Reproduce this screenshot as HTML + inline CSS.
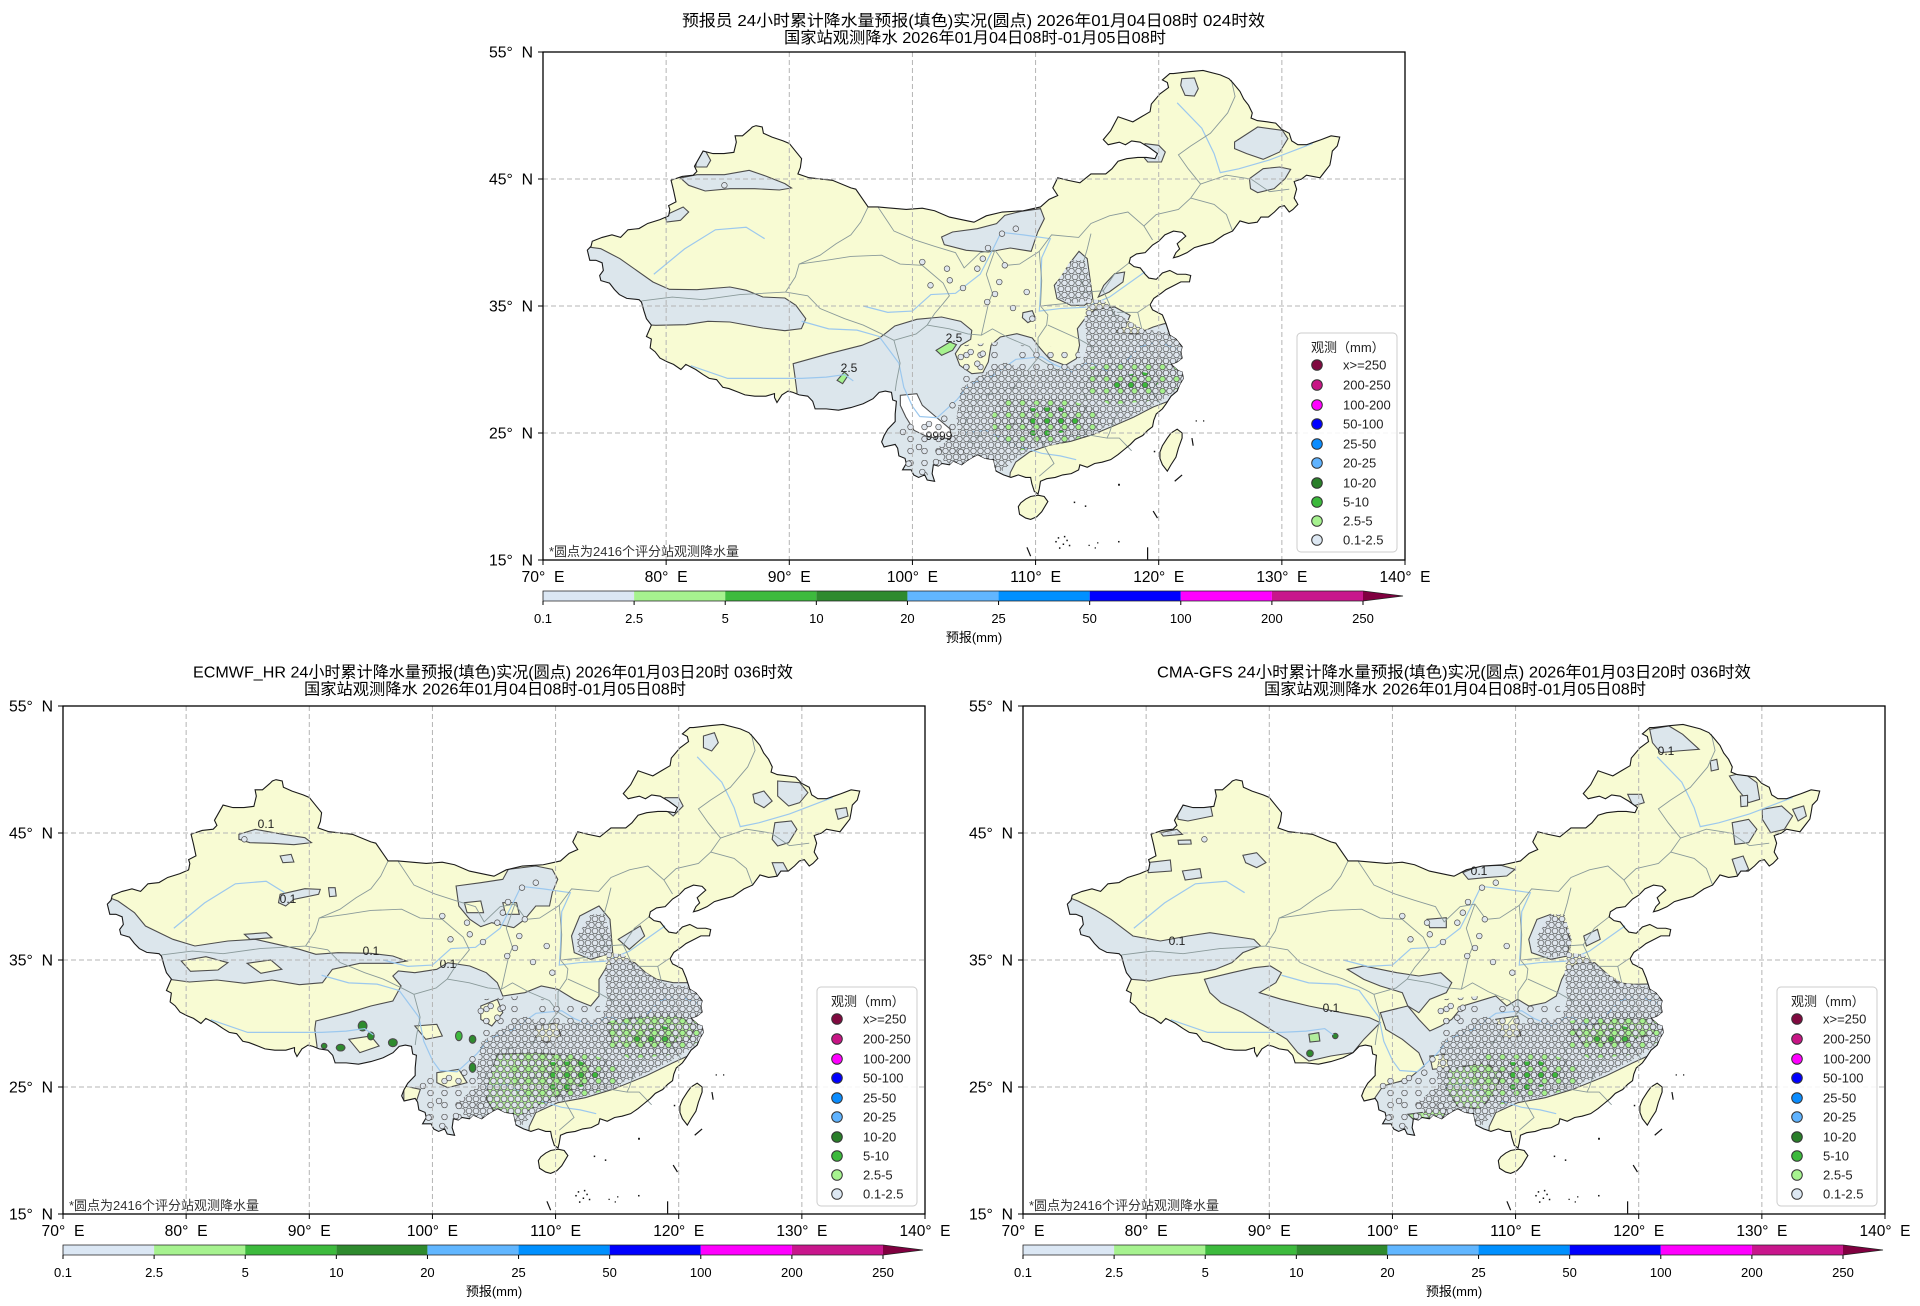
<!DOCTYPE html>
<html>
<head>
<meta charset="utf-8">
<style>
html,body{margin:0;padding:0;background:#fff;}
svg{display:block;}
.z path,.z ellipse{vector-effect:non-scaling-stroke;}
.ll path,.ll line,.ll circle{vector-effect:non-scaling-stroke;}
.t{font-family:"Liberation Sans","Noto Sans CJK SC",sans-serif;font-size:16px;fill:#000;}
.tk{font-family:"Liberation Sans","Noto Sans CJK SC",sans-serif;font-size:16px;fill:#000;}
.cbl{font-family:"Liberation Sans","Noto Sans CJK SC",sans-serif;font-size:13px;fill:#000;}
.lg{font-family:"Liberation Sans","Noto Sans CJK SC",sans-serif;font-size:13px;fill:#222;}
.fn{font-family:"Liberation Sans","Noto Sans CJK SC",sans-serif;font-size:13px;fill:#333;}
.cl{font-family:"Liberation Sans","Noto Sans CJK SC",sans-serif;font-size:12px;fill:#222;}
</style>
</head>
<body>
<svg width="1920" height="1306" viewBox="0 0 1920 1306" xmlns="http://www.w3.org/2000/svg">
<defs>
<path id="cn" vector-effect="non-scaling-stroke" d="M121.2,-53.3 L122.5,-53.45 L123.6,-53.55 L125,-53.2 L125.7,-52.9 L126,-52.6 L126.6,-51.9 L126.9,-51.3 L127.3,-50.8 L127.6,-50.2 L127.5,-49.8 L128,-49.6 L128.8,-49.5 L129.5,-49.4 L130,-48.9 L130.6,-48.6 L130.8,-48 L131.3,-47.7 L132,-47.7 L132.6,-47.9 L133.2,-48.1 L134,-48.4 L134.7,-48.3 L134.5,-47.6 L134.1,-47.2 L134,-46.6 L133.9,-46.1 L133.5,-45.6 L133.1,-45.1 L132,-45.3 L131.6,-45 L131,-44.8 L131.2,-44.2 L131,-43.5 L131.3,-43 L130.9,-42.6 L130.6,-42.4 L130.2,-42.9 L129.8,-42.8 L129.4,-42.4 L128.9,-42 L128.3,-42 L128,-41.6 L127.3,-41.5 L126.6,-41.7 L126,-40.9 L125.3,-40.6 L124.4,-40 L123.6,-39.8 L122.9,-39.6 L122.3,-39.2 L121.6,-38.9 L121.2,-38.8 L121.4,-39.2 L121.7,-39.5 L121.5,-39.9 L122.2,-40.5 L121.9,-40.8 L121.2,-40.9 L120.5,-40.6 L120,-40.1 L119.5,-39.8 L118.9,-39.2 L118.2,-39.1 L117.7,-38.8 L117.6,-38.4 L118,-38.1 L118.5,-38 L118.9,-37.5 L119.2,-37.2 L119.8,-37.1 L120.3,-37.6 L120.9,-37.8 L121.5,-37.5 L122.2,-37.5 L122.6,-37.4 L122.5,-36.9 L121.8,-36.9 L121,-36.5 L120.6,-36.3 L120.2,-36 L119.6,-35.6 L119.3,-35.1 L119.5,-34.7 L120.3,-34.3 L120.6,-33.6 L120.9,-32.7 L121.4,-32.4 L121.9,-31.8 L121.8,-31.4 L121.9,-30.9 L121.5,-30.6 L121,-30.4 L121.6,-29.9 L121.9,-29.8 L122,-29.3 L121.7,-28.8 L121.5,-28.3 L121,-27.9 L120.6,-27.3 L120.3,-26.9 L119.8,-26.5 L119.6,-26 L119.5,-25.5 L119.1,-25.2 L118.7,-24.8 L118.1,-24.5 L117.7,-24.1 L117.2,-23.7 L116.7,-23.3 L116.1,-22.9 L115.4,-22.7 L114.8,-22.6 L114.2,-22.3 L113.6,-22.5 L113.5,-22.1 L112.9,-21.8 L112.2,-21.7 L111.6,-21.5 L110.9,-21.4 L110.4,-21.2 L110.3,-20.6 L110.2,-20.2 L109.9,-20.4 L109.7,-21 L109.6,-21.5 L109.2,-21.5 L108.6,-21.7 L108,-21.5 L107.4,-21.7 L106.8,-22 L106.7,-22.4 L106.6,-22.9 L105.9,-23 L105.3,-23.3 L104.9,-23.1 L104.4,-22.8 L104,-22.5 L103.3,-22.8 L103,-22.5 L102.4,-22.6 L102.1,-22.4 L101.7,-22.5 L101.6,-21.8 L101.8,-21.2 L101.2,-21.3 L101,-21.7 L100.5,-21.5 L100.1,-21.7 L99.9,-22.1 L99.2,-22.1 L99.5,-22.6 L99.4,-23 L98.9,-23.2 L98.8,-23.8 L98.6,-24.1 L97.7,-23.9 L97.5,-24.3 L97.7,-24.8 L98,-25.3 L98.6,-25.9 L98.6,-26.5 L98.7,-27.5 L98.4,-27.6 L98.3,-28.2 L97.8,-28.3 L97.3,-28.2 L96.8,-27.7 L96,-27.3 L95,-27 L94,-26.8 L93,-26.9 L92.1,-26.9 L91.9,-27.5 L91.5,-27.9 L90.8,-28 L90.3,-28.2 L89.9,-28.3 L89.4,-28 L89,-27.4 L88.8,-27.8 L88.8,-28.1 L88.1,-27.9 L87.2,-27.9 L86.4,-28 L85.9,-28.2 L85.1,-28.5 L84.6,-28.6 L84.1,-29.2 L83.5,-29.3 L83,-29.6 L82.4,-30 L81.6,-30.4 L81.2,-30 L80.6,-30.4 L80.1,-30.6 L79.5,-30.9 L79.1,-31.4 L78.7,-31.7 L78.8,-32.4 L78.4,-32.6 L78.8,-33.5 L78.4,-34 L78.2,-34.6 L78,-35.3 L77.8,-35.5 L76.8,-35.6 L76.2,-35.9 L75.8,-36.3 L75.4,-36.8 L74.7,-37 L74.6,-37.4 L74.9,-37.8 L74.8,-38.4 L74.3,-38.6 L73.8,-38.6 L73.7,-39 L73.6,-39.4 L73.9,-39.7 L74,-40.1 L74.8,-40.4 L75.6,-40.6 L76.3,-40.4 L76.9,-41 L77.8,-41.1 L78.5,-41.5 L79.5,-41.8 L80.2,-42.1 L80.3,-42.6 L80.2,-42.9 L80.8,-43.2 L80.6,-44.1 L80.4,-44.9 L81.3,-45.2 L82.2,-45.3 L82.5,-45.6 L82.3,-46 L83,-47.2 L83.8,-47 L84.7,-47 L85.5,-47.1 L85.7,-47.9 L85.6,-48.4 L86.2,-48.4 L86.8,-48.9 L87,-49.1 L87.3,-49.2 L87.8,-49.1 L87.9,-48.6 L88.6,-48.3 L89.5,-48 L90,-47.8 L90.5,-47.2 L91,-46.6 L90.9,-45.9 L90.7,-45.4 L91.6,-45.1 L93.5,-44.9 L95,-44.3 L95.4,-44.2 L96.4,-42.8 L97.2,-42.8 L99.5,-42.6 L100.8,-42.7 L101.8,-42.5 L103,-42 L104.5,-41.7 L105,-41.6 L106,-42.1 L107.3,-42.4 L109,-42.5 L110.4,-42.8 L111.1,-43.4 L111.8,-43.7 L111.4,-44.3 L111.8,-45.1 L112.6,-44.9 L113.6,-44.7 L114.5,-45.4 L115.7,-45.4 L116.2,-45.8 L116.7,-46.4 L117.4,-46.6 L118.3,-46.7 L119,-46.7 L119.7,-46.6 L119.9,-47 L119.2,-47.5 L118.5,-47.9 L117.8,-48 L117.3,-47.7 L116.8,-47.9 L115.9,-47.7 L115.5,-48.1 L116.1,-48.8 L116.7,-49.9 L117.9,-49.5 L118.6,-49.9 L119.3,-50.3 L119.4,-50.9 L120.1,-51.7 L120.8,-52.2 L120.7,-52.6 L120.3,-52.8 L120.9,-53.3 Z M108.6,-19.2 L108.7,-18.6 L109.2,-18.3 L109.6,-18.2 L110.1,-18.4 L110.5,-18.8 L111,-19.6 L110.7,-20 L110.2,-20.1 L109.6,-20 L109.2,-19.8 L108.8,-19.5 Z M120.1,-23 L120.3,-22.5 L120.7,-22 L121,-22.5 L121.4,-23.1 L121.6,-23.8 L121.9,-24.6 L121.9,-25 L121.5,-25.3 L121,-25 L120.7,-24.6 L120.3,-24 L120.1,-23.5 Z"/>
<clipPath id="cp"><use href="#cn" transform="scale(12.314,12.7) translate(-70,55)"/></clipPath>

<pattern id="pd" width="7" height="12" patternUnits="userSpaceOnUse" patternTransform="scale(1.81905,3)">
<g fill="#dfe6ee" stroke="#505050" stroke-width="0.7"><circle cx="3.5" cy="3" r="2.8"/><circle cx="0" cy="9" r="2.8"/><circle cx="7" cy="9" r="2.8"/></g>
</pattern>
<pattern id="ps" width="14" height="12" patternUnits="userSpaceOnUse" patternTransform="scale(1.81905,3)">
<g fill="#dfe6ee" stroke="#505050" stroke-width="0.7"><circle cx="3.5" cy="3" r="2.8"/></g>
</pattern>
<pattern id="pg" width="14" height="12" patternUnits="userSpaceOnUse" patternTransform="scale(1.81905,3)">
<g stroke="#505050" stroke-width="0.7"><circle cx="3.5" cy="3" r="2.8" fill="#a6f28f"/><circle cx="10.5" cy="3" r="2.8" fill="#dfe6ee"/><circle cx="0" cy="9" r="2.8" fill="#dfe6ee"/><circle cx="14" cy="9" r="2.8" fill="#dfe6ee"/><circle cx="7" cy="9" r="2.8" fill="#dfe6ee"/></g>
</pattern>
<pattern id="pg2" width="14" height="12" patternUnits="userSpaceOnUse" patternTransform="scale(1.81905,3)">
<g stroke="#505050" stroke-width="0.7"><circle cx="3.5" cy="3" r="2.8" fill="#a6f28f"/><circle cx="10.5" cy="3" r="2.8" fill="#dfe6ee"/><circle cx="0" cy="9" r="2.8" fill="#3cb93c"/><circle cx="14" cy="9" r="2.8" fill="#3cb93c"/><circle cx="7" cy="9" r="2.8" fill="#dfe6ee"/></g>
</pattern>

<g id="land"><use href="#cn" fill="#f8fbd3" transform="scale(12.314,12.7) translate(-70,55)"/></g>

<g id="lines" class="ll">
<g transform="scale(12.314,12.7) translate(-70,55)" fill="none">
<g stroke="#9cc8ee" stroke-width="1.2">
<path d="M91,-33.8 L93.2,-33.2 L95.5,-33.1 L97.3,-32.6 L98.9,-30.5 L99.3,-28.6 L100,-27.1 L100.6,-26.3 L102,-26.2 L103.6,-27.6 L104.6,-28.8 L106.5,-29.5 L108.4,-30.8 L110.5,-31 L111.5,-30.4 L113,-29.8 L114.3,-30.6 L116,-29.8 L117.5,-30.8 L118.5,-31.8 L120,-32.2 L121.5,-31.6"/>
<path d="M96,-35 L98,-34.5 L100,-34.6 L101.5,-35.9 L103.5,-36 L105.5,-37.5 L106.5,-39.4 L107.2,-40.8 L109,-40.6 L111.2,-40.3 L110.5,-38.8 L110.4,-36 L110.3,-34.6 L112,-34.8 L114,-34.9 L116,-35.7 L118.9,-37.7"/>
<path d="M121.5,-51 L123.5,-49 L124.5,-47 L125,-45.5 L126.5,-45.8 L129,-46.5 L132.5,-47.8"/>
<path d="M82,-30.3 L85,-29.3 L88,-29.3 L91,-29.3 L93,-29.4 L94.5,-29.6 L95.2,-29.1"/>
<path d="M104,-25 L106,-25.2 L108.5,-24 L110.5,-23.4 L112,-23.2 L113.3,-22.9"/>
<path d="M79,-37.5 L81.5,-39.5 L84,-41 L86.5,-41.2 L88,-40.3"/>
</g>
<g stroke="#8a9a9a" stroke-width="0.9">
<path d="M78,-35.4 L80.5,-35.7 L83,-35.5 L86,-35.9 L89.7,-36.1 L90.5,-37.3 L90.8,-38.3 L92.5,-39 L93.8,-39.9 L95,-40.6 L95.8,-41.6 L96.4,-42.8"/>
<path d="M89.7,-36.1 L91.5,-35.8 L92.5,-34.8 L94.5,-34 L96,-33.5 L97.5,-32.8 L98.5,-32.3 L99,-30.5 L98.7,-29 L98.6,-28.3"/>
<path d="M90.8,-38.3 L93,-38.6 L95,-38.9 L97.5,-39 L99,-38.3 L100.8,-38.2 L102.5,-36.8 L103,-35.8 L102.5,-35.2 L101.8,-34.4 L101.2,-33.5 L100.3,-32.8 L98.5,-32.3"/>
<path d="M97.2,-42.8 L98.5,-40.9 L100.2,-40.2 L101.8,-39.7 L103.5,-39.2 L104.2,-38 L105.5,-39.2 L106.7,-39.4 L107.6,-38.2 L108.7,-38.3 L110.3,-39.3 L111.3,-40.6 L113.5,-40.4 L114.5,-41.5 L116,-42.1 L117.5,-42.4 L118.8,-41.3 L119.8,-42.2 L121.6,-42.6 L122.6,-43.5 L123.4,-44.6 L122.4,-45.8 L121.6,-46.9 L122.6,-47.6 L124.2,-48.6 L125.6,-50.2 L126.2,-51.5 L125.9,-52.8"/>
<path d="M101.2,-33.5 L103,-33.2 L104.5,-32.8 L105.6,-32.7 L106.5,-33.2 L107.8,-32.5 L109.5,-31.8 L110.2,-30.9 L109,-29.5 L108.2,-28.5 L106.8,-28.2 L105.4,-27.8 L104.5,-26.6 L104.2,-25.2 L104.6,-24.3 L105.5,-24.8 L106.8,-25.3 L108.5,-25.8 L109.6,-26.1 L111,-25.2 L112,-24.8 L114,-24.9 L115.8,-24.6 L116.8,-24.6 L117.8,-23.6"/>
<path d="M110.3,-39.3 L110.5,-37 L110.4,-35 L111,-34.3 L110.9,-33.5 L110.2,-32.5 L110.2,-30.9"/>
<path d="M106.7,-39.4 L106,-37.5 L106.5,-36 L106.2,-35.3 L105.6,-32.7"/>
<path d="M111,-33.5 L113.5,-32.4 L114.8,-31.7 L115.9,-31.5 L116.5,-29.8 L114.7,-29.4 L113.5,-29.2 L112,-29.8 L110.2,-30.9"/>
<path d="M113.5,-29.2 L114.2,-27.5 L113.8,-26 L114,-24.9"/>
<path d="M116.5,-29.8 L118.2,-29.4 L118,-28 L116.5,-26.5 L116,-25 L115.8,-24.6"/>
<path d="M115.9,-31.5 L116.8,-33 L116.3,-34.5 L118.3,-34.5 L119.2,-35.1"/>
<path d="M110.4,-35 L112.5,-35.2 L114,-36.1 L115.5,-36.2 L116.3,-34.5"/>
<path d="M114,-36.1 L113.6,-37.5 L114.2,-39.5 L114.5,-40.7"/>
<path d="M115.5,-36.2 L116.4,-37.5 L117.6,-38.4"/>
<path d="M109.6,-26.1 L110.8,-23.8 L111.5,-22.6 L110.3,-21.6"/>
<path d="M104.6,-24.3 L105.4,-24 L105.7,-23.4"/>
<path d="M123.4,-44.6 L125.5,-45.3 L127.5,-45 L129,-44 L130.6,-44.2"/>
<path d="M122.6,-43.5 L124.5,-43 L125.5,-42.2 L126,-40.9"/>
<path d="M118.8,-41.3 L119.5,-40.2"/>
<path d="M118.2,-29.4 L119.5,-28.2 L120.2,-27.2"/>
<path d="M118.3,-34.5 L118.8,-32.5 L119.6,-31.2 L120.9,-30.7"/>
</g>
<use href="#cn" fill="none" stroke="#1a1a1a" stroke-width="1.1"/>
<g stroke="#111" stroke-width="1.2">
<path d="M109.3,-16 L109.6,-15.3"/>
<path d="M119.1,-16 L119.1,-15.05"/>
<path d="M119.55,-18.85 L119.9,-18.3"/>
<path d="M121.3,-21.2 L121.9,-21.7"/>
<path d="M122.7,-24.6 L122.8,-24"/>
</g>
<g fill="#111" stroke="none">
<rect x="111.6" y="-16.5" width="0.12" height="0.12"/><rect x="111.8" y="-16.8" width="0.12" height="0.12"/><rect x="112.2" y="-16.3" width="0.12" height="0.12"/><rect x="112.5" y="-16.6" width="0.12" height="0.12"/><rect x="112.3" y="-16.9" width="0.12" height="0.12"/><rect x="111.9" y="-16.0" width="0.12" height="0.12"/><rect x="112.7" y="-16.2" width="0.12" height="0.12"/><rect x="114.3" y="-16.2" width="0.1" height="0.1"/><rect x="114.8" y="-16.0" width="0.1" height="0.1"/><rect x="115.0" y="-16.4" width="0.1" height="0.1"/><rect x="116.7" y="-16.5" width="0.12" height="0.12"/><rect x="116.7" y="-21.0" width="0.15" height="0.15"/><rect x="113.1" y="-19.6" width="0.12" height="0.12"/><rect x="114.0" y="-19.3" width="0.12" height="0.12"/><rect x="119.6" y="-23.6" width="0.12" height="0.12"/><rect x="123.6" y="-26.0" width="0.1" height="0.1"/><rect x="123.0" y="-26.0" width="0.1" height="0.1"/>
</g>
</g>
</g>

<g id="obs" clip-path="url(#cp)">
<g class="z" transform="scale(0.54974,0.33333)" stroke="none">
<path fill="url(#ps)" d="M650,1120 L700,1100 L755,1100 L760,1240 L700,1270 L660,1240 Z"/>
<path fill="url(#ps)" d="M760,880 L830,870 L850,960 L800,990 L760,1010 Z"/>
<path fill="url(#ps)" d="M860,880 L975,885 L980,945 L860,965 Z"/>
<path fill="url(#pd)" d="M990,740 L1020,745 L1050,790 L1090,830 L1130,840 L1160,850 L1175,900 L1170,960 L1150,1020 L1100,1070 L1050,1110 L1000,1140 L960,1160 L900,1180 L860,1220 L835,1258 L800,1245 L760,1240 L730,1232 L720,1185 L755,1140 L752,1100 L760,1010 L790,975 L840,930 L880,955 L940,950 L980,935 L990,880 L985,800 Z"/>
<path fill="url(#pd)" d="M960,625 L985,625 L998,700 L995,745 L960,755 L935,735 L935,690 Z"/>
<path fill="url(#pg)" d="M830,1040 L940,1035 L1015,1075 L1015,1140 L940,1175 L870,1195 L825,1165 L815,1100 Z"/>
<path fill="url(#pg)" d="M995,945 L1090,915 L1168,935 L1168,1000 L1100,1048 L1030,1058 L985,1012 Z"/>
<path fill="url(#pg2)" d="M870,1070 L940,1065 L980,1095 L960,1135 L900,1160 L870,1130 Z"/>
<path fill="url(#pg2)" d="M1030,980 L1090,960 L1130,975 L1110,1010 L1050,1025 Z"/>
</g>
<g fill="#dfe6ee" stroke="#505050" stroke-width="0.7">
<circle cx="379.3" cy="210" r="2.8"/><circle cx="404" cy="216.7" r="2.8"/><circle cx="406.8" cy="228.3" r="2.8"/><circle cx="387.5" cy="233.3" r="2.8"/><circle cx="434.3" cy="216.7" r="2.8"/><circle cx="439.8" cy="206.7" r="2.8"/><circle cx="461.8" cy="213.3" r="2.8"/><circle cx="456.3" cy="230" r="2.8"/><circle cx="483.7" cy="240" r="2.8"/><circle cx="444.2" cy="250" r="2.8"/><circle cx="472.8" cy="176.7" r="2.8"/><circle cx="459" cy="181.7" r="2.8"/><circle cx="427.7" cy="300" r="2.8"/><circle cx="439.8" cy="301.7" r="2.8"/><circle cx="434.3" cy="311.7" r="2.8"/><circle cx="423.3" cy="315" r="2.8"/><circle cx="360" cy="380" r="2.8"/><circle cx="365.6" cy="411.7" r="2.8"/><circle cx="379.3" cy="420" r="2.8"/><circle cx="393" cy="410" r="2.8"/><circle cx="714.6" cy="173.3" r="2.8"/><circle cx="181.4" cy="133.3" r="2.8"/><circle cx="489.3" cy="266.7" r="2.8"/><circle cx="417.8" cy="305" r="2.8"/><circle cx="409.5" cy="353.3" r="2.8"/><circle cx="401.3" cy="366.7" r="2.8"/><circle cx="395.8" cy="400" r="2.8"/><circle cx="417.8" cy="400" r="2.8"/><circle cx="445" cy="196" r="2.8"/><circle cx="420" cy="236" r="2.8"/><circle cx="452" cy="242" r="2.8"/><circle cx="470" cy="256" r="2.8"/><circle cx="376" cy="395" r="2.8"/><circle cx="386" cy="372" r="2.8"/>
</g>
</g>

<g id="axdeco">
<g stroke="#b4b4b4" stroke-width="1" stroke-dasharray="5,3" fill="none">
<line x1="123.14" y1="0" x2="123.14" y2="508"/><line x1="246.29" y1="0" x2="246.29" y2="508"/><line x1="369.43" y1="0" x2="369.43" y2="508"/><line x1="492.57" y1="0" x2="492.57" y2="508"/><line x1="615.71" y1="0" x2="615.71" y2="508"/><line x1="738.86" y1="0" x2="738.86" y2="508"/>
<line x1="0" y1="127" x2="862" y2="127"/><line x1="0" y1="254" x2="862" y2="254"/><line x1="0" y1="381" x2="862" y2="381"/>
</g>
<rect x="0" y="0" width="862" height="508" fill="none" stroke="#000" stroke-width="1.3"/>
<g stroke="#000" stroke-width="1">
<line x1="-5" y1="0" x2="0" y2="0"/><line x1="-5" y1="127" x2="0" y2="127"/><line x1="-5" y1="254" x2="0" y2="254"/><line x1="-5" y1="381" x2="0" y2="381"/><line x1="-5" y1="508" x2="0" y2="508"/>
<line x1="0" y1="508" x2="0" y2="513"/><line x1="123.14" y1="508" x2="123.14" y2="513"/><line x1="246.29" y1="508" x2="246.29" y2="513"/><line x1="369.43" y1="508" x2="369.43" y2="513"/><line x1="492.57" y1="508" x2="492.57" y2="513"/><line x1="615.71" y1="508" x2="615.71" y2="513"/><line x1="738.86" y1="508" x2="738.86" y2="513"/><line x1="862" y1="508" x2="862" y2="513"/>
</g>
<g class="tk" text-anchor="end">
<text x="-10" y="5.5" textLength="44" lengthAdjust="spacingAndGlyphs">55°&#160;&#160;N</text>
<text x="-10" y="132.5" textLength="44" lengthAdjust="spacingAndGlyphs">45°&#160;&#160;N</text>
<text x="-10" y="259.5" textLength="44" lengthAdjust="spacingAndGlyphs">35°&#160;&#160;N</text>
<text x="-10" y="386.5" textLength="44" lengthAdjust="spacingAndGlyphs">25°&#160;&#160;N</text>
<text x="-10" y="513.5" textLength="44" lengthAdjust="spacingAndGlyphs">15°&#160;&#160;N</text>
</g>
<g class="tk" text-anchor="middle">
<text x="0" y="530" textLength="43" lengthAdjust="spacingAndGlyphs">70°&#160;&#160;E</text>
<text x="123.14" y="530" textLength="43" lengthAdjust="spacingAndGlyphs">80°&#160;&#160;E</text>
<text x="246.29" y="530" textLength="43" lengthAdjust="spacingAndGlyphs">90°&#160;&#160;E</text>
<text x="369.43" y="530" textLength="51" lengthAdjust="spacingAndGlyphs">100°&#160;&#160;E</text>
<text x="492.57" y="530" textLength="51" lengthAdjust="spacingAndGlyphs">110°&#160;&#160;E</text>
<text x="615.71" y="530" textLength="51" lengthAdjust="spacingAndGlyphs">120°&#160;&#160;E</text>
<text x="738.86" y="530" textLength="51" lengthAdjust="spacingAndGlyphs">130°&#160;&#160;E</text>
<text x="862" y="530" textLength="51" lengthAdjust="spacingAndGlyphs">140°&#160;&#160;E</text>
</g>
<text class="fn" x="6" y="504">*圆点为2416个评分站观测降水量</text>
<rect x="754" y="281" width="100" height="219" rx="4" ry="4" fill="#ffffff" fill-opacity="0.85" stroke="#cccccc" stroke-width="1"/>
<text class="lg" x="768" y="300">观测（mm）</text>
<g stroke="#333" stroke-width="1">
<circle cx="774" cy="313" r="5.3" fill="#800a40"/>
<circle cx="774" cy="333" r="5.3" fill="#c71585"/>
<circle cx="774" cy="353" r="5.3" fill="#ff00ff"/>
<circle cx="774" cy="372" r="5.3" fill="#0000ff"/>
<circle cx="774" cy="392" r="5.3" fill="#0a8cff"/>
<circle cx="774" cy="411" r="5.3" fill="#5fb3ff"/>
<circle cx="774" cy="431" r="5.3" fill="#2a7f2a"/>
<circle cx="774" cy="450" r="5.3" fill="#3cb93c"/>
<circle cx="774" cy="469" r="5.3" fill="#a6f28f"/>
<circle cx="774" cy="488" r="5.3" fill="#dde8f3"/>
</g>
<g class="lg">
<text x="800" y="317.5">x&gt;=250</text>
<text x="800" y="337.5">200-250</text>
<text x="800" y="357.5">100-200</text>
<text x="800" y="376.5">50-100</text>
<text x="800" y="396.5">25-50</text>
<text x="800" y="415.5">20-25</text>
<text x="800" y="435.5">10-20</text>
<text x="800" y="454.5">5-10</text>
<text x="800" y="473.5">2.5-5</text>
<text x="800" y="492.5">0.1-2.5</text>
</g>
</g>

<g id="cb">
<rect x="0" y="539" width="91.11" height="10" fill="#dbe7f4"/>
<rect x="91.11" y="539" width="91.11" height="10" fill="#a6f28f"/>
<rect x="182.22" y="539" width="91.11" height="10" fill="#3dba3d"/>
<rect x="273.33" y="539" width="91.11" height="10" fill="#2e8a2e"/>
<rect x="364.44" y="539" width="91.11" height="10" fill="#61b6ff"/>
<rect x="455.56" y="539" width="91.11" height="10" fill="#0090ff"/>
<rect x="546.67" y="539" width="91.11" height="10" fill="#0000fe"/>
<rect x="637.78" y="539" width="91.11" height="10" fill="#fe00fe"/>
<rect x="728.89" y="539" width="91.11" height="10" fill="#c8168c"/>
<polygon points="820,539 860,544 820,549" fill="#800040"/>
<path d="M0,539 H820 L860,544 L820,549 H0 Z" fill="none" stroke="#222" stroke-width="0.8"/>
<g stroke="#000" stroke-width="1">
<line x1="0" y1="549" x2="0" y2="553"/><line x1="91.11" y1="549" x2="91.11" y2="553"/><line x1="182.22" y1="549" x2="182.22" y2="553"/><line x1="273.33" y1="549" x2="273.33" y2="553"/><line x1="364.44" y1="549" x2="364.44" y2="553"/><line x1="455.56" y1="549" x2="455.56" y2="553"/><line x1="546.67" y1="549" x2="546.67" y2="553"/><line x1="637.78" y1="549" x2="637.78" y2="553"/><line x1="728.89" y1="549" x2="728.89" y2="553"/><line x1="820" y1="549" x2="820" y2="553"/>
</g>
<g class="cbl" text-anchor="middle">
<text x="0" y="571">0.1</text><text x="91.11" y="571">2.5</text><text x="182.22" y="571">5</text><text x="273.33" y="571">10</text><text x="364.44" y="571">20</text><text x="455.56" y="571">25</text><text x="546.67" y="571">50</text><text x="637.78" y="571">100</text><text x="728.89" y="571">200</text><text x="820" y="571">250</text>
<text x="431" y="590">预报(mm)</text>
</g>
</g>
</defs>

<rect x="0" y="0" width="1920" height="1306" fill="#ffffff"/>

<!-- ============ TOP PANEL ============ -->
<text class="t" x="973.5" y="26" text-anchor="middle" textLength="583" lengthAdjust="spacingAndGlyphs">预报员 24小时累计降水量预报(填色)实况(圆点) 2026年01月04日08时 024时效</text>
<text class="t" x="975" y="43" text-anchor="middle" textLength="382" lengthAdjust="spacingAndGlyphs">国家站观测降水 2026年01月04日08时-01月05日08时</text>
<g transform="translate(543,52)">
<use href="#land"/>
<g clip-path="url(#cp)">
<g class="z" transform="scale(0.54974,0.33333)" fill="#dce6ec" stroke="#4d4d4d" stroke-width="1.1">
<path d="M60,580 L105,590 L140,620 L200,690 L230,712 L280,713 L340,705 L370,715 L400,735 L440,738 L460,760 L478,800 L470,830 L440,836 L400,828 L340,810 L300,808 L260,818 L205,820 L185,818 L150,830 L60,830 Z"/>
<path d="M455,935 L520,905 L580,880 L612,858 L640,822 L680,802 L725,795 L760,808 L780,835 L778,862 L760,880 L750,905 L758,940 L780,965 L800,962 L810,930 L815,880 L832,855 L862,845 L890,858 L905,890 L922,922 L950,940 L970,920 L976,880 L972,830 L988,795 L1005,772 L1040,765 L1068,790 L1060,820 L1040,840 L1080,846 L1110,825 L1130,815 L1250,815 L1250,1000 L1150,1040 L1110,1065 L1075,1095 L1040,1120 L1000,1148 L960,1168 L920,1180 L885,1200 L860,1230 L850,1262 L845,1340 L460,1340 L460,1100 L462,1020 L458,970 Z"/>
<path fill="#ffffff" d="M650,1030 L680,1025 L690,1060 L715,1095 L740,1130 L745,1160 L700,1155 L675,1135 L660,1095 L650,1060 Z"/>
<path d="M725,555 L745,540 L790,530 L825,515 L840,490 L870,478 L905,470 L912,500 L900,540 L888,598 L850,588 L810,600 L770,595 L730,578 Z"/>
<path d="M975,598 L990,620 L995,680 L1000,740 L985,760 L960,760 L935,740 L930,700 L945,670 L960,630 Z"/>
<path d="M1020,700 L1040,665 L1058,660 L1055,690 L1030,720 L1010,735 Z"/>
<path d="M873,782 L890,776 L896,800 L882,812 L872,797 Z"/>
<path d="M250,378 L280,368 L330,368 L375,355 L405,372 L440,395 L452,408 L430,414 L385,410 L340,410 L295,417 L265,400 Z"/>
<path d="M280,300 L295,295 L305,325 L298,345 L278,345 Z"/>
<path d="M222,490 L255,465 L265,480 L250,505 L225,510 Z"/>
<path d="M1162,80 L1185,78 L1192,110 L1185,132 L1168,130 L1160,100 Z"/>
<path d="M1095,275 L1120,280 L1132,300 L1125,330 L1100,330 L1085,300 Z"/>
<path d="M1258,270 L1300,225 L1345,235 L1355,260 L1340,300 L1310,322 L1280,305 L1258,290 Z"/>
<path d="M1285,380 L1310,350 L1340,345 L1360,352 L1350,380 L1330,410 L1300,422 L1287,410 Z"/>
<path fill="#a6f28f" d="M715,895 L740,870 L752,878 L745,895 L725,910 Z"/>
<path fill="#a6f28f" d="M535,985 L548,960 L555,970 L545,995 Z"/>
</g>
</g>
<use href="#lines"/>
<use href="#obs"/>
<g class="cl" text-anchor="middle"><text x="411" y="290">2.5</text><text x="306" y="320">2.5</text><text x="396" y="388">9999</text></g>
<use href="#axdeco"/>
<use href="#cb"/>
</g>

<!-- ============ BOTTOM LEFT PANEL ============ -->
<text class="t" x="493" y="677.5" text-anchor="middle" textLength="600" lengthAdjust="spacingAndGlyphs">ECMWF_HR 24小时累计降水量预报(填色)实况(圆点) 2026年01月03日20时 036时效</text>
<text class="t" x="495" y="694.5" text-anchor="middle" textLength="382" lengthAdjust="spacingAndGlyphs">国家站观测降水 2026年01月04日08时-01月05日08时</text>
<g transform="translate(63,706)">
<use href="#land"/>
<g clip-path="url(#cp)">
<g class="z" transform="scale(0.54974,0.33333)" fill="#dce6ec" stroke="#4d4d4d" stroke-width="1.1">
<path d="M60,560 L100,585 L130,620 L150,660 L200,700 L240,720 L300,705 L350,700 L390,715 L430,730 L460,745 L500,740 L560,742 L600,750 L625,765 L600,772 L540,772 L490,790 L472,830 L430,836 L380,822 L330,832 L280,822 L230,828 L185,818 L150,830 L60,830 Z"/>
<path fill="#f8fbd3" d="M215,765 L260,752 L300,770 L282,792 L232,796 Z"/>
<path fill="#f8fbd3" d="M335,772 L378,762 L398,790 L360,802 Z"/>
<path d="M460,945 L520,920 L560,900 L600,885 L615,840 L600,810 L610,795 L640,800 L680,790 L700,770 L740,780 L770,800 L790,830 L800,870 L840,860 L870,840 L900,850 L930,880 L960,900 L975,870 L975,820 L990,780 L1010,760 L1040,770 L1060,800 L1080,820 L1110,830 L1250,830 L1250,1000 L1150,1040 L1110,1070 L1060,1110 L1000,1150 L950,1175 L900,1190 L860,1220 L848,1262 L845,1340 L460,1340 L460,1100 L462,1020 L458,970 Z"/>
<path fill="#f8fbd3" d="M760,900 L790,880 L800,920 L780,960 L760,940 Z"/>
<path fill="#f8fbd3" d="M860,960 L900,950 L905,990 L880,1010 L860,995 Z"/>
<path fill="#f8fbd3" d="M640,960 L680,955 L690,990 L660,1000 Z"/>
<path fill="#f8fbd3" d="M680,1100 L720,1090 L735,1130 L700,1145 L680,1130 Z"/>
<path fill="#f8fbd3" d="M620,1140 L650,1150 L640,1200 L620,1190 Z"/>
<path fill="#f8fbd3" d="M520,1000 L560,990 L575,1020 L540,1040 Z"/>
<path d="M320,385 L350,370 L400,385 L440,395 L452,410 L420,416 L380,412 L340,410 L320,400 Z"/>
<path d="M395,565 L440,548 L468,550 L465,565 L420,580 L405,600 L392,590 Z"/>
<path d="M483,545 L495,545 L497,570 L485,572 Z"/>
<path d="M395,450 L415,445 L420,468 L400,470 Z"/>
<path d="M330,685 L370,680 L380,695 L340,700 Z"/>
<path d="M715,540 L760,530 L800,520 L810,490 L860,480 L890,490 L900,520 L890,560 L885,600 L860,600 L840,640 L820,665 L780,650 L760,662 L740,640 L720,600 Z"/>
<path fill="#f8fbd3" d="M730,590 L760,585 L765,620 L735,620 Z"/>
<path fill="#f8fbd3" d="M800,590 L825,590 L830,625 L805,625 Z"/>
<path d="M940,630 L975,600 L995,640 L1000,740 L960,760 L930,740 L925,690 Z"/>
<path d="M1010,700 L1050,660 L1058,690 L1030,730 Z"/>
<path d="M1165,90 L1185,80 L1192,110 L1180,135 L1165,125 Z"/>
<path d="M1300,225 L1340,230 L1355,260 L1340,290 L1320,300 L1300,270 Z"/>
<path d="M1255,265 L1275,255 L1290,285 L1275,305 L1258,290 Z"/>
<path d="M1295,350 L1325,345 L1335,370 L1320,410 L1300,420 L1290,400 Z"/>
<path d="M1095,275 L1120,275 L1128,300 L1110,330 L1095,310 Z"/>
<path d="M1290,470 L1310,470 L1320,500 L1300,515 Z"/>
<path d="M1405,310 L1425,305 L1428,330 L1410,340 Z"/>
<path fill="#b2ee9c" d="M790,1045 L860,1040 L920,1050 L960,1080 L950,1130 L900,1170 L860,1200 L830,1230 L790,1230 L770,1180 L775,1120 Z"/>
<path fill="#b2ee9c" d="M990,950 L1060,930 L1120,930 L1150,960 L1140,1000 L1080,1020 L1000,1020 Z"/>
<ellipse cx="545" cy="960" rx="8" ry="15" fill="#2e8b2e"/>
<ellipse cx="560" cy="990" rx="6" ry="12" fill="#2e8b2e"/>
<ellipse cx="600" cy="1010" rx="8" ry="12" fill="#2e8b2e"/>
<ellipse cx="720" cy="990" rx="6" ry="14" fill="#3dba3d"/>
<ellipse cx="745" cy="1000" rx="6" ry="12" fill="#2e8b2e"/>
<ellipse cx="745" cy="1085" rx="6" ry="14" fill="#2e8b2e"/>
<ellipse cx="505" cy="1025" rx="8" ry="10" fill="#2e8b2e"/>
<ellipse cx="475" cy="1020" rx="5" ry="8" fill="#2e8b2e"/>
</g>
</g>
<use href="#lines"/>
<use href="#obs"/>
<g class="cl" text-anchor="middle"><text x="203" y="122">0.1</text><text x="225" y="197">0.1</text><text x="308" y="249">0.1</text><text x="385" y="262">0.1</text></g>
<use href="#axdeco"/>
<use href="#cb"/>
</g>

<!-- ============ BOTTOM RIGHT PANEL ============ -->
<text class="t" x="1454" y="677.5" text-anchor="middle" textLength="594" lengthAdjust="spacingAndGlyphs">CMA-GFS 24小时累计降水量预报(填色)实况(圆点) 2026年01月03日20时 036时效</text>
<text class="t" x="1455" y="694.5" text-anchor="middle" textLength="382" lengthAdjust="spacingAndGlyphs">国家站观测降水 2026年01月04日08时-01月05日08时</text>
<g transform="translate(1023,706)">
<use href="#land"/>
<g clip-path="url(#cp)">
<g class="z" transform="scale(0.54974,0.33333)" fill="#dce6ec" stroke="#4d4d4d" stroke-width="1.1">
<path d="M60,560 L100,585 L130,610 L160,640 L200,690 L250,705 L300,690 L340,680 L380,690 L420,700 L432,720 L400,740 L380,770 L350,790 L320,800 L270,810 L230,825 L185,818 L150,830 L60,830 Z"/>
<path d="M330,820 L380,800 L420,785 L450,780 L470,800 L460,830 L430,860 L470,880 L520,900 L580,920 L630,935 L650,950 L620,1000 L600,1040 L560,1050 L520,1065 L500,1040 L480,1000 L440,960 L400,920 L360,890 L340,860 Z"/>
<path d="M590,790 L620,780 L680,800 L720,810 L760,800 L780,830 L770,860 L740,880 L720,920 L700,900 L690,860 L650,840 L620,820 Z"/>
<path d="M650,920 L700,900 L720,940 L740,975 L760,960 L780,940 L800,900 L840,880 L860,870 L880,900 L900,880 L920,900 L950,890 L970,870 L980,820 L990,790 L1010,770 L1040,770 L1060,800 L1080,830 L1110,835 L1250,830 L1250,1000 L1150,1040 L1110,1070 L1060,1110 L1000,1150 L950,1175 L900,1190 L860,1220 L848,1262 L845,1340 L640,1340 L630,1200 L655,1140 L700,1120 L730,1080 L720,1040 L690,1000 L660,970 Z"/>
<path fill="#f8fbd3" d="M860,940 L900,930 L905,990 L875,1000 Z"/>
<path fill="#f8fbd3" d="M740,1050 L770,1045 L775,1085 L745,1090 Z"/>
<path d="M800,500 L830,480 L870,478 L895,490 L880,510 L840,515 L810,520 Z"/>
<path d="M735,640 L770,635 L770,665 L740,665 Z"/>
<path d="M935,640 L960,625 L985,650 L995,700 L990,750 L960,760 L925,740 L920,700 Z"/>
<path d="M1020,690 L1045,670 L1050,700 L1025,720 Z"/>
<path d="M280,300 L340,290 L345,330 L300,345 L282,340 Z"/>
<path d="M400,448 L425,440 L442,470 L425,485 L405,470 Z"/>
<path d="M290,495 L322,488 L325,515 L295,522 Z"/>
<path d="M225,470 L268,462 L270,495 L228,500 Z"/>
<path d="M282,403 L305,402 L306,414 L283,415 Z"/>
<path d="M250,380 L280,370 L290,385 L255,390 Z"/>
<path d="M1140,70 L1175,60 L1200,85 L1230,130 L1190,135 L1160,140 L1145,110 Z"/>
<path d="M1285,210 L1310,200 L1335,230 L1340,280 L1320,290 L1300,250 Z"/>
<path d="M1345,310 L1380,300 L1400,330 L1385,370 L1360,380 L1345,340 Z"/>
<path d="M1290,350 L1320,340 L1335,370 L1320,410 L1295,415 Z"/>
<path d="M1100,265 L1125,265 L1130,290 L1110,300 Z"/>
<path d="M1290,460 L1310,450 L1320,490 L1300,510 Z"/>
<path d="M1400,310 L1420,300 L1425,330 L1410,345 Z"/>
<path d="M1250,165 L1262,160 L1265,190 L1252,195 Z"/>
<path d="M1305,270 L1318,268 L1318,300 L1306,302 Z"/>
<path fill="#b2ee9c" d="M775,1090 L840,1070 L870,1100 L860,1160 L830,1210 L790,1200 L770,1150 Z"/>
<path fill="#b2ee9c" d="M1000,970 L1080,940 L1140,940 L1150,980 L1090,1010 L1020,1015 Z"/>
<path fill="#b2ee9c" d="M700,1225 L770,1210 L765,1232 L710,1240 Z"/>
<path fill="#b2ee9c" d="M520,985 L538,980 L540,1005 L522,1008 Z"/>
<ellipse cx="522" cy="1042" rx="6" ry="10" fill="#2e8b2e"/>
<ellipse cx="568" cy="990" rx="5" ry="8" fill="#2e8b2e"/>
</g>
</g>
<use href="#lines"/>
<use href="#obs"/>
<g class="cl" text-anchor="middle"><text x="643" y="49">0.1</text><text x="154" y="239">0.1</text><text x="308" y="306">0.1</text><text x="456" y="169">0.1</text></g>
<use href="#axdeco"/>
<use href="#cb"/>
</g>
</svg>
</body>
</html>
